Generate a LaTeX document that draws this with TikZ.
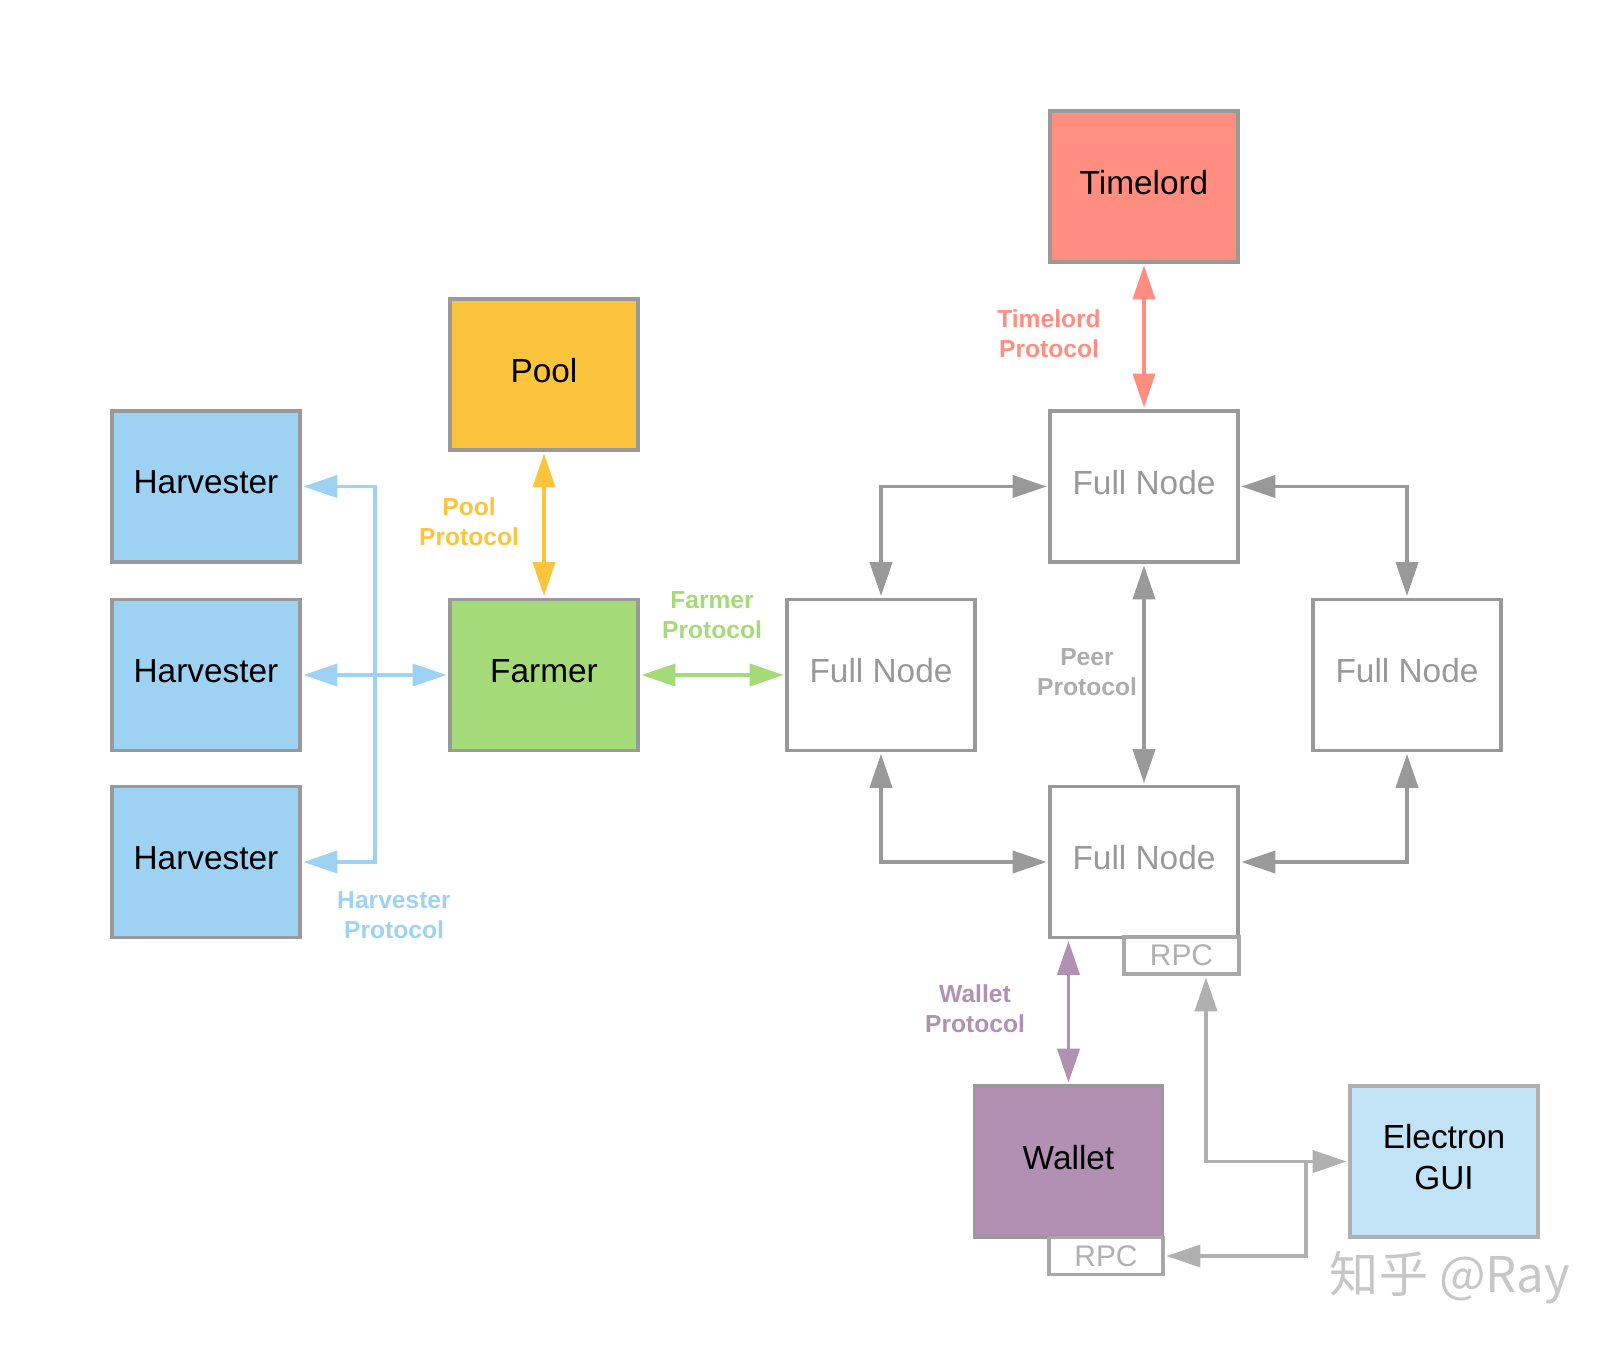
\documentclass[tikz,border=0pt]{standalone}
\usepackage{fontspec}
\setmainfont{Liberation Sans}
\newfontfamily\cjkfont{Noto Sans CJK SC}
\usepackage{tikz}
\usetikzlibrary{positioning, arrows.meta, calc}
\definecolor{harvblue}{RGB}{158,210,242}
\definecolor{poolyellow}{RGB}{251,196,61}
\definecolor{farmgreen}{RGB}{165,218,120}
\definecolor{timered}{RGB}{255,142,128}
\definecolor{walletpurple}{RGB}{178,144,180}
\definecolor{guiblue}{RGB}{194,227,245}
\definecolor{edgegray}{RGB}{153,153,153}
\definecolor{rpcgray}{RGB}{176,176,176}

\begin{document}
\begin{tikzpicture}[
        box/.style={draw=edgegray, line width=1.1pt, minimum width=1.88cm, minimum height=1.51cm, inner sep=0pt, text depth=0.9mm, align=center, font=\fontsize{9.5}{11.5}\selectfont},
        fullnode/.style={box, fill=white, text=edgegray},
        rpcbox/.style={draw=edgegray!85, line width=1.1pt, fill=white, minimum width=1.15cm, minimum height=0.37cm, inner sep=0pt, text=rpcgray, font=\fontsize{8.5}{9}\selectfont},
        link/.style={line width=1.1pt, {Triangle[length=3.4mm, width=2.2mm]}-{Triangle[length=3.4mm, width=2.2mm]}, shorten <=0.4pt, shorten >=0.4pt},
        oneway/.style={line width=1.1pt, -{Triangle[length=3.4mm, width=2.2mm]}, shorten >=0.4pt},
        proto/.style={align=center, font=\bfseries\fontsize{7}{8.5}\selectfont},
    ]
        \useasboundingbox (0,0) rectangle (16.13,-13.5);
        \node[box, fill=harvblue] (H1) at (2.06,-4.865) {Harvester};
        \node[box, fill=harvblue] (H2) at (2.06,-6.75)  {Harvester};
        \node[box, fill=harvblue] (H3) at (2.06,-8.62)  {Harvester};
        \node[box, fill=poolyellow] (Pool) at (5.44,-3.745) {Pool};
        \node[box, fill=farmgreen] (Farmer) at (5.44,-6.75) {Farmer};
        \node[box, fill=timered] (TL) at (11.44,-1.865) {Timelord};
        \node[fullnode] (FT) at (11.44,-4.865) {Full Node};
        \node[fullnode] (FL) at (8.81,-6.75)   {Full Node};
        \node[fullnode] (FR) at (14.07,-6.75)  {Full Node};
        \node[fullnode] (FB) at (11.44,-8.62)  {Full Node};
        \node[rpcbox] (RPCB) at (11.815,-9.555) {RPC};
        \node[box, fill=walletpurple] (Wallet) at (10.685,-11.615) {Wallet};
        \node[rpcbox, minimum width=1.14cm] (RPCW) at (11.06,-12.56) {RPC};
        \node[box, fill=guiblue, draw=rpcgray] (GUI) at (14.44,-11.615) {Electron\\GUI};
        \coordinate (rpcturn)  at (12.06,-11.615);
        \coordinate (rpcsplit) at (13.06,-11.615);
        \draw[link, harvblue] (H2.east) -- (Farmer.west);
        \draw[link, harvblue] (H1.east) -| ($(H2.east)!0.5!(Farmer.west)$) |- (H3.east);
        \draw[link, poolyellow] (Pool.south) -- (Farmer.north);
        \draw[link, farmgreen] (Farmer.east) -- (FL.west);
        \draw[link, timered] (TL.south) -- (FT.north);
        \draw[link, edgegray] (FT.south) -- (FB.north);
        \draw[link, edgegray] (FT.west) -| (FL.north);
        \draw[link, edgegray] (FT.east) -| (FR.north);
        \draw[link, edgegray] (FB.west) -| (FL.south);
        \draw[link, edgegray] (FB.east) -| (FR.south);
        \draw[link, walletpurple] (Wallet.north) -- (Wallet.north |- FB.south);
        \draw[link, rpcgray] (rpcturn |- RPCB.south) |- (GUI.west);
        \draw[oneway, rpcgray] (rpcsplit) |- (RPCW.east);
        \node[proto, text=poolyellow]   (lpool)   at (4.69,-5.22)  {Pool\\Protocol};
        \node[proto, text=farmgreen]    (lfarm)   at (7.12,-6.15)  {Farmer\\Protocol};
        \node[proto, text=timered]      (ltime)   at (10.49,-3.34) {Timelord\\Protocol};
        \node[proto, text=edgegray!80]  (lpeer)   at (10.87,-6.72) {Peer\\Protocol};
        \node[proto, text=harvblue]     (lharv)   at (3.94,-9.155) {Harvester\\Protocol};
        \node[proto, text=walletpurple] (lwallet) at (9.75,-10.09) {Wallet\\Protocol};
        \node[text=black!22, font=\cjkfont\fontsize{14}{16}\selectfont] (mark) at (14.5,-12.78) {知乎 @Ray};
    \end{tikzpicture}
\end{document}
